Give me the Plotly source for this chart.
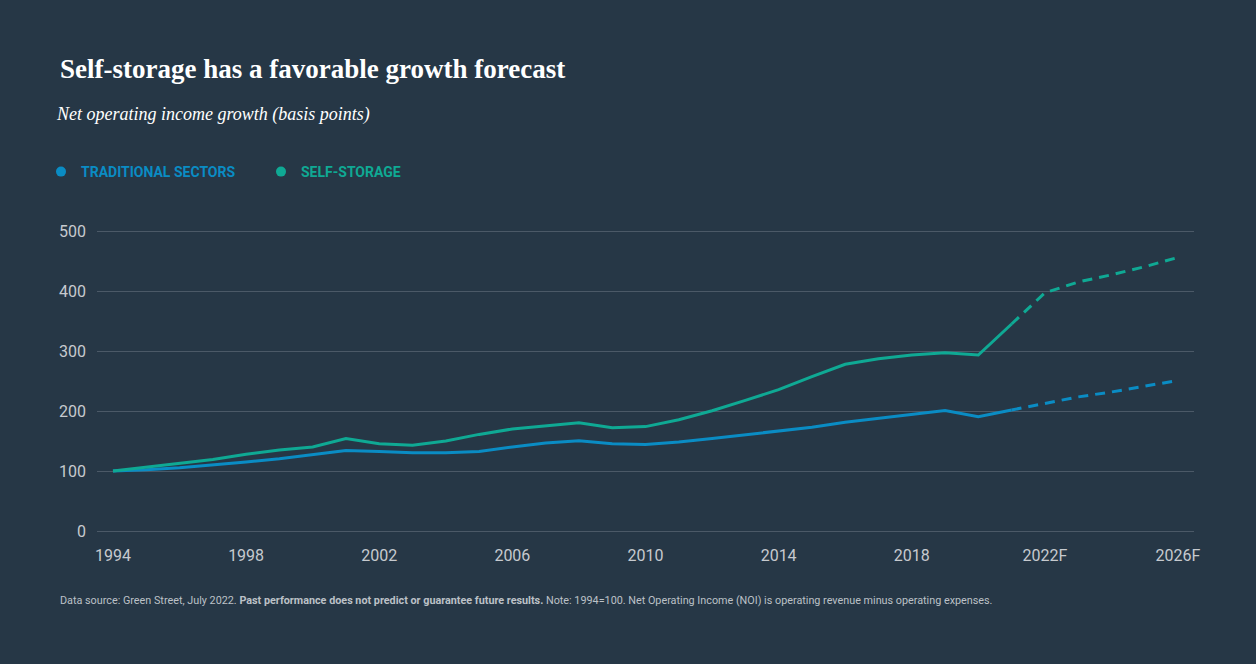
import plotly.graph_objects as go

# canvas / plot area in pixels
W, H = 1256, 664
ML, MR, MT, MB = 97, 62, 228, 130
PW = W - ML - MR
PH = H - MT - MB

# data (1994 = 100)
hist_years = list(range(1994, 2022))
fc_years = list(range(2021, 2027))

trad_hist = [100, 102, 105.5, 110, 115, 120.5, 127.5, 134, 132.7, 130.5,
             130.5, 132.7, 140, 146.7, 150.5, 145.5, 144, 148.5, 154.3, 160.5,
             167, 172.8, 181.2, 187.8, 194, 200.7, 190.5, 201.7]
trad_fc = [201.7, 213, 223.5, 231.7, 241, 251]

storage_hist = [100, 106, 112, 119, 128, 135, 140, 154, 145.5, 143,
                150, 161, 170, 175.5, 180.5, 172, 174, 185.5, 200.5, 217.7,
                235.5, 257.2, 277.8, 287.2, 293.3, 297.2, 293.3, 345]
storage_fc = [345, 397, 415, 427, 440.5, 456]

tick_years = [1994, 1998, 2002, 2006, 2010, 2014, 2018, 2022, 2026]
tick_labels = ['1994', '1998', '2002', '2006', '2010', '2014', '2018', '2022F', '2026F']
y_ticks = [0, 100, 200, 300, 400, 500]

BG = '#263746'
GRID = '#4b5967'
BLUE = '#0a8cc4'
TEAL = '#0fa994'
TICK = '#c6cacf'
NOTE = '#bcc1c7'


def px_x(px):
    return (px - ML) / PW


def px_y(py):
    return (H - MB - py) / PH


fig = go.Figure()

def add_series(name, color, hx, hy, fx, fy):
    fig.add_trace(go.Scatter(x=hx, y=hy, mode='lines', showlegend=False,
                             line=dict(color=color, width=3), hoverinfo='x+y', name=name))
    fig.add_trace(go.Scatter(x=fx, y=fy, mode='lines', showlegend=False,
                             line=dict(color=color, width=3, dash='10px,7px'),
                             hoverinfo='x+y', name=name + ' (forecast)'))
    # legend dot only
    fig.add_trace(go.Scatter(x=[None], y=[None], mode='markers',
                             marker=dict(color=color, size=10),
                             name=f"<span style='color:{color}'><b>{name}</b></span>"))

add_series('TRADITIONAL SECTORS', BLUE, hist_years, trad_hist, fc_years, trad_fc)
add_series('SELF-STORAGE', TEAL, hist_years, storage_hist, fc_years, storage_fc)

fig.update_layout(
    width=W, height=H,
    margin=dict(l=ML, r=MR, t=MT, b=MB, autoexpand=False),
    paper_bgcolor=BG, plot_bgcolor=BG,
    showlegend=True,
    legend=dict(
        orientation='h',
        x=px_x(41), y=px_y(172),
        xanchor='left', yanchor='middle',
        font=dict(family='Roboto', size=14),
        bgcolor='rgba(0,0,0,0)',
        itemwidth=30,
        entrywidth=175,
    ),
    xaxis=dict(
        range=[1993.52, 2026.48],
        tickmode='array', tickvals=tick_years, ticktext=tick_labels,
        showgrid=False, zeroline=False, showline=False, ticks='',
        ticklabelstandoff=10,
        tickfont=dict(family='Roboto', size=16, color=TICK),
        fixedrange=True,
    ),
    yaxis=dict(
        range=[-5, 505],
        tickmode='array', tickvals=y_ticks,
        showgrid=True, gridcolor=GRID, gridwidth=1,
        zeroline=False, showline=False, ticks='',
        ticklabelstandoff=10,
        tickfont=dict(family='Roboto', size=16, color=TICK),
        fixedrange=True,
    ),
    annotations=[
        dict(text='<b>Self-storage has a favorable growth forecast</b>',
             x=px_x(58), y=px_y(69), xref='paper', yref='paper',
             xanchor='left', yanchor='middle', showarrow=False,
             font=dict(family='Liberation Serif', size=27, color='#ffffff')),
        dict(text='<i>Net operating income growth (basis points)</i>',
             x=px_x(54), y=px_y(114), xref='paper', yref='paper',
             xanchor='left', yanchor='middle', showarrow=False,
             font=dict(family='Liberation Serif', size=18, color='#ffffff')),
        dict(text=('Data source: Green Street, July 2022. '
                   '<b>Past performance does not predict or guarantee future results.</b> '
                   'Note: 1994=100. Net Operating Income (NOI) is operating revenue '
                   'minus operating expenses.'),
             x=px_x(58), y=px_y(600), xref='paper', yref='paper',
             xanchor='left', yanchor='middle', showarrow=False,
             font=dict(family='Roboto', size=10.8, color=NOTE)),
    ],
)

# drop the browser's default body margin so the figure sits at 0,0
fig.write_html("out.html", config={'displayModeBar': False},
               post_script="document.body.style.margin='0';")
